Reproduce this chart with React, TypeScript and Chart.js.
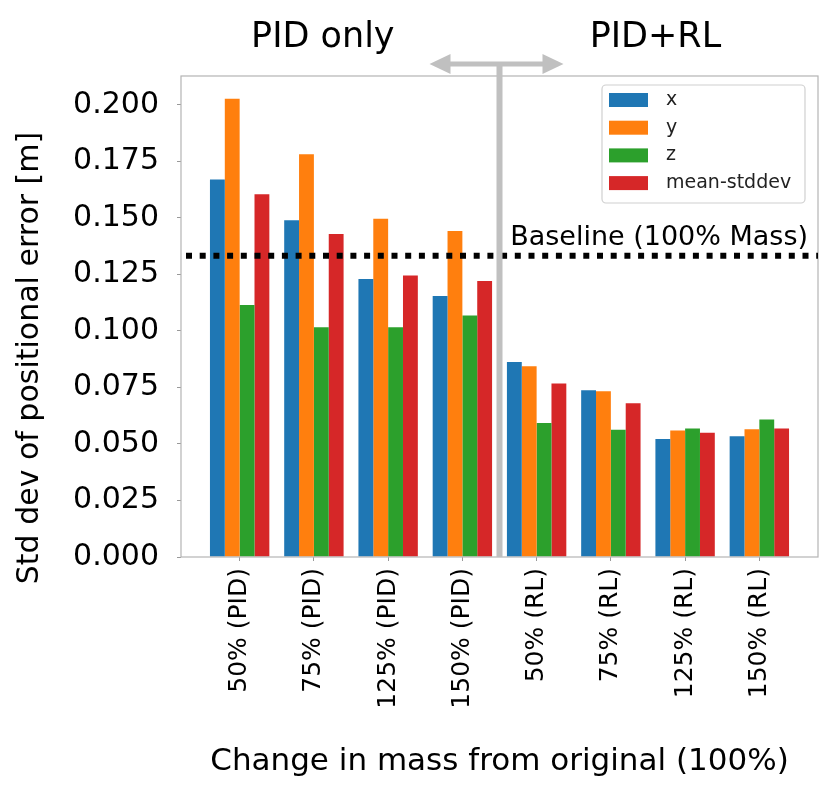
import { useEffect, useRef } from "react"
import { Chart, registerables } from "chart.js"

Chart.register(...registerables)

const categories = [
  "50% (PID)",
  "75% (PID)",
  "125% (PID)",
  "150% (PID)",
  "50% (RL)",
  "75% (RL)",
  "125% (RL)",
  "150% (RL)",
]
const xErr = [0.167, 0.149, 0.123, 0.1155, 0.0863, 0.0738, 0.0522, 0.0534]
const yErr = [0.2027, 0.1782, 0.1497, 0.1442, 0.0844, 0.0733, 0.056, 0.0565]
const zErr = [0.1115, 0.1016, 0.1016, 0.1068, 0.0593, 0.0563, 0.0569, 0.0608]
const meanErr = [0.1605, 0.1429, 0.1245, 0.1221, 0.0768, 0.068, 0.055, 0.0569]
const yTicks = [0, 0.025, 0.05, 0.075, 0.1, 0.125, 0.15, 0.175, 0.2]
const baselineValue = 0.1333

const seriesNames = ["x", "y", "z", "mean-stddev"]
const seriesColors = ["#1f77b4", "#ff7f0e", "#2ca02c", "#d62728"]
const FONT = "'DejaVu Sans', sans-serif"

// extra drawing: frame, baseline, PID / RL divider with arrow, legend box, y title
const overlay = {
  id: "overlay",
  afterDraw(chart: any) {
    const { ctx, chartArea: a, scales } = chart
    const xs = scales.x
    const ys = scales.y
    ctx.save()

    // axes frame
    ctx.strokeStyle = "#b4b4b4"
    ctx.lineWidth = 1.2
    ctx.strokeRect(a.left, a.top, a.right - a.left, a.bottom - a.top)

    // baseline (dotted)
    const by = ys.getPixelForValue(baselineValue)
    ctx.strokeStyle = "#000"
    ctx.lineWidth = 6
    ctx.setLineDash([6, 7.7])
    ctx.beginPath()
    ctx.moveTo(a.left + 5, by)
    ctx.lineTo(a.right, by)
    ctx.stroke()
    ctx.setLineDash([])
    ctx.fillStyle = "#000"
    ctx.font = `27px ${FONT}`
    ctx.textAlign = "right"
    ctx.textBaseline = "alphabetic"
    ctx.fillText("Baseline (100% Mass)", a.right - 10, by - 11)

    // divider between PID and RL groups
    const dx = xs.getPixelForValue(3.5)
    const ay = a.top - 12
    ctx.fillStyle = "#c0c0c0"
    ctx.fillRect(dx - 3, ay - 2, 6, a.bottom - ay + 2)
    const L = dx - 70
    const R = dx + 64
    const h = 21
    ctx.beginPath()
    ctx.moveTo(L, ay)
    ctx.lineTo(L + h, ay - 10)
    ctx.lineTo(L + h, ay - 2.5)
    ctx.lineTo(R - h, ay - 2.5)
    ctx.lineTo(R - h, ay - 10)
    ctx.lineTo(R, ay)
    ctx.lineTo(R - h, ay + 10)
    ctx.lineTo(R - h, ay + 2.5)
    ctx.lineTo(L + h, ay + 2.5)
    ctx.lineTo(L + h, ay + 10)
    ctx.closePath()
    ctx.fill()

    // group labels
    ctx.fillStyle = "#000"
    ctx.font = `35px ${FONT}`
    ctx.textAlign = "center"
    ctx.fillText("PID only", xs.getPixelForValue(1.12), 39)
    ctx.fillText("PID+RL", xs.getPixelForValue(5.6), 39)

    // y axis title
    ctx.save()
    ctx.translate(22, 350)
    ctx.rotate(-Math.PI / 2)
    ctx.font = `30px ${FONT}`
    ctx.textBaseline = "middle"
    ctx.fillText("Std dev of positional error [m]", 0, 0)
    ctx.restore()

    // legend
    const lx = a.right - 216
    const ly = a.top + 9
    ctx.fillStyle = "rgba(255,255,255,0.85)"
    ctx.strokeStyle = "#d0d0d0"
    ctx.lineWidth = 1.2
    ctx.beginPath()
    ctx.roundRect(lx, ly, 203, 118, 4)
    ctx.fill()
    ctx.stroke()
    ctx.font = `19px ${FONT}`
    ctx.textAlign = "left"
    ctx.textBaseline = "middle"
    seriesNames.forEach((name, i) => {
      const cy = ly + 15 + i * 27.7
      ctx.fillStyle = seriesColors[i]
      ctx.fillRect(lx + 7, cy - 7, 39, 14)
      ctx.fillStyle = "#222"
      ctx.fillText(name, lx + 64, cy)
    })

    ctx.restore()
  },
}

export default function App() {
  const canvasRef = useRef<HTMLCanvasElement | null>(null)

  useEffect(() => {
    if (!canvasRef.current) return
    const ctx = canvasRef.current.getContext("2d")
    if (!ctx) return

    Chart.defaults.font.family = FONT
    Chart.defaults.color = "#000"

    const series = [xErr, yErr, zErr, meanErr]
    const chart = new Chart(ctx, {
      type: "bar",
      data: {
        datasets: series.map((vals, si) => ({
          label: seriesNames[si],
          data: vals.map((v, i) => ({ x: i, y: v })),
          backgroundColor: seriesColors[si],
          borderWidth: 0,
          categoryPercentage: 0.8,
          barPercentage: 1.0,
        })),
      },
      options: {
        animation: false,
        responsive: true,
        maintainAspectRatio: false,
        layout: { padding: { top: 68, right: 5, left: 0, bottom: 0 } },
        plugins: {
          legend: { display: false },
          tooltip: { enabled: false },
        },
        scales: {
          x: {
            type: "linear",
            min: -0.79,
            max: 7.79,
            offset: false,
            afterBuildTicks: (axis: any) => {
              axis.ticks = categories.map((_, i) => ({ value: i }))
            },
            afterFit: (axis: any) => {
              axis.height = 235
            },
            border: { display: false },
            grid: { offset: false, drawOnChartArea: false, drawTicks: true, tickLength: 4, color: "#999" },
            ticks: {
              autoSkip: false,
              minRotation: 90,
              maxRotation: 90,
              padding: 7,
              font: { size: 25 },
              callback: (v: any) => categories[v] ?? "",
            },
            title: {
              display: true,
              text: "Change in mass from original (100%)",
              font: { size: 31 },
              padding: { top: 0, bottom: 11 },
            },
          },
          y: {
            min: 0,
            max: 0.2128,
            afterBuildTicks: (axis: any) => {
              axis.ticks = yTicks.map((v) => ({ value: v }))
            },
            afterFit: (axis: any) => {
              axis.width = 173
            },
            border: { display: false },
            grid: { drawOnChartArea: false, drawTicks: true, tickLength: 4, color: "#999" },
            ticks: {
              padding: 18,
              font: { size: 30 },
              callback: (v: any) => Number(v).toFixed(3),
            },
          },
        },
      },
      plugins: [overlay],
    })

    return () => {
      chart.destroy()
    }
  }, [])

  return (
    <div style={{ width: 815, height: 784, position: "relative" }}>
      <canvas ref={canvasRef}></canvas>
    </div>
  )
}
